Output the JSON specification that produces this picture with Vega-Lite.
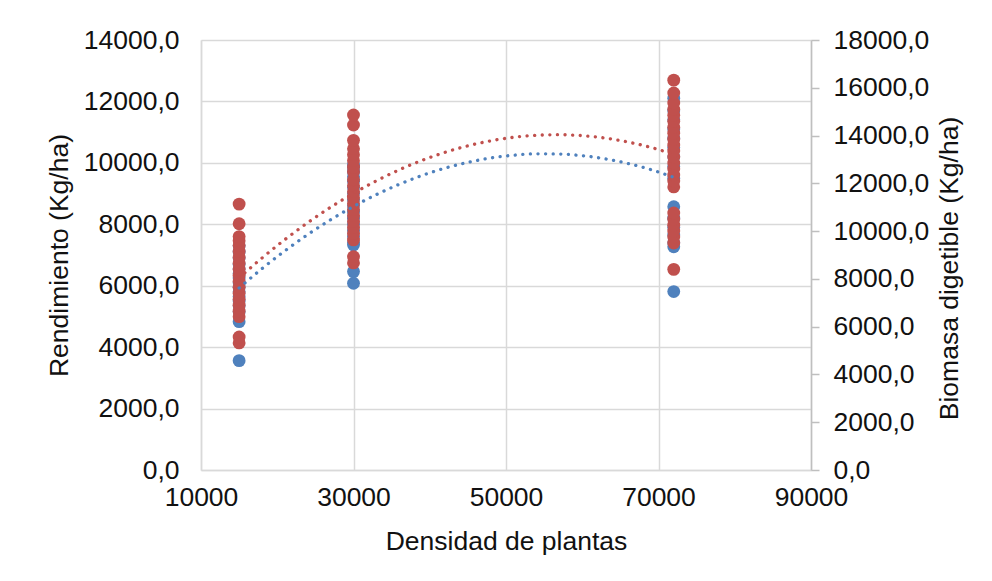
{
  "$schema": "https://vega.github.io/schema/vega-lite/v6.json",
  "width": 610,
  "height": 430,
  "autosize": "none",
  "padding": {"left": 201, "top": 40, "right": 181, "bottom": 111},
  "background": "white",
  "config": {
    "view": {"stroke": null},
    "font": "Liberation Sans",
    "axis": {
      "labelFont": "Liberation Sans",
      "titleFont": "Liberation Sans",
      "labelFontSize": 26.5,
      "titleFontSize": 26.5,
      "titleFontWeight": "normal",
      "labelColor": "#111111",
      "titleColor": "#111111",
      "gridColor": "#D9D9D9",
      "gridWidth": 1.5,
      "domainColor": "#D9D9D9",
      "domainWidth": 1.5,
      "tickColor": "#BFBFBF",
      "tickWidth": 1.5
    }
  },
  "datasets": {
    "rendimiento": [
      {"densidad": 15000, "rendimiento": 3560},
      {"densidad": 15000, "rendimiento": 4830},
      {"densidad": 15000, "rendimiento": 5150},
      {"densidad": 15000, "rendimiento": 5350},
      {"densidad": 15000, "rendimiento": 5500},
      {"densidad": 15000, "rendimiento": 5650},
      {"densidad": 15000, "rendimiento": 5800},
      {"densidad": 15000, "rendimiento": 5950},
      {"densidad": 15000, "rendimiento": 6100},
      {"densidad": 15000, "rendimiento": 6250},
      {"densidad": 15000, "rendimiento": 6400},
      {"densidad": 15000, "rendimiento": 6550},
      {"densidad": 15000, "rendimiento": 6700},
      {"densidad": 15000, "rendimiento": 6900},
      {"densidad": 15000, "rendimiento": 7100},
      {"densidad": 15000, "rendimiento": 7300},
      {"densidad": 30000, "rendimiento": 6080},
      {"densidad": 30000, "rendimiento": 6460},
      {"densidad": 30000, "rendimiento": 7330},
      {"densidad": 30000, "rendimiento": 7400},
      {"densidad": 30000, "rendimiento": 7600},
      {"densidad": 30000, "rendimiento": 7800},
      {"densidad": 30000, "rendimiento": 8000},
      {"densidad": 30000, "rendimiento": 8200},
      {"densidad": 30000, "rendimiento": 8400},
      {"densidad": 30000, "rendimiento": 8600},
      {"densidad": 30000, "rendimiento": 8800},
      {"densidad": 30000, "rendimiento": 9000},
      {"densidad": 30000, "rendimiento": 9200},
      {"densidad": 30000, "rendimiento": 9400},
      {"densidad": 30000, "rendimiento": 9550},
      {"densidad": 30000, "rendimiento": 9700},
      {"densidad": 30000, "rendimiento": 9850},
      {"densidad": 30000, "rendimiento": 9930},
      {"densidad": 72000, "rendimiento": 5810},
      {"densidad": 72000, "rendimiento": 7270},
      {"densidad": 72000, "rendimiento": 7400},
      {"densidad": 72000, "rendimiento": 7650},
      {"densidad": 72000, "rendimiento": 7900},
      {"densidad": 72000, "rendimiento": 8200},
      {"densidad": 72000, "rendimiento": 8570},
      {"densidad": 72000, "rendimiento": 9500},
      {"densidad": 72000, "rendimiento": 9880},
      {"densidad": 72000, "rendimiento": 10200},
      {"densidad": 72000, "rendimiento": 10500},
      {"densidad": 72000, "rendimiento": 10800},
      {"densidad": 72000, "rendimiento": 11100},
      {"densidad": 72000, "rendimiento": 11400},
      {"densidad": 72000, "rendimiento": 11700},
      {"densidad": 72000, "rendimiento": 12100}
    ],
    "biomasa": [
      {"densidad": 15000, "biomasa": 5320},
      {"densidad": 15000, "biomasa": 5570},
      {"densidad": 15000, "biomasa": 6420},
      {"densidad": 15000, "biomasa": 6650},
      {"densidad": 15000, "biomasa": 6900},
      {"densidad": 15000, "biomasa": 7150},
      {"densidad": 15000, "biomasa": 7400},
      {"densidad": 15000, "biomasa": 7650},
      {"densidad": 15000, "biomasa": 7900},
      {"densidad": 15000, "biomasa": 8150},
      {"densidad": 15000, "biomasa": 8400},
      {"densidad": 15000, "biomasa": 8650},
      {"densidad": 15000, "biomasa": 8900},
      {"densidad": 15000, "biomasa": 9150},
      {"densidad": 15000, "biomasa": 9400},
      {"densidad": 15000, "biomasa": 9600},
      {"densidad": 15000, "biomasa": 9770},
      {"densidad": 15000, "biomasa": 10310},
      {"densidad": 15000, "biomasa": 11130},
      {"densidad": 30000, "biomasa": 8670},
      {"densidad": 30000, "biomasa": 8930},
      {"densidad": 30000, "biomasa": 9630},
      {"densidad": 30000, "biomasa": 9900},
      {"densidad": 30000, "biomasa": 10150},
      {"densidad": 30000, "biomasa": 10400},
      {"densidad": 30000, "biomasa": 10650},
      {"densidad": 30000, "biomasa": 10900},
      {"densidad": 30000, "biomasa": 11150},
      {"densidad": 30000, "biomasa": 11400},
      {"densidad": 30000, "biomasa": 11650},
      {"densidad": 30000, "biomasa": 11900},
      {"densidad": 30000, "biomasa": 12150},
      {"densidad": 30000, "biomasa": 12490},
      {"densidad": 30000, "biomasa": 12680},
      {"densidad": 30000, "biomasa": 12950},
      {"densidad": 30000, "biomasa": 13200},
      {"densidad": 30000, "biomasa": 13450},
      {"densidad": 30000, "biomasa": 13800},
      {"densidad": 30000, "biomasa": 14440},
      {"densidad": 30000, "biomasa": 14860},
      {"densidad": 72000, "biomasa": 8400},
      {"densidad": 72000, "biomasa": 9500},
      {"densidad": 72000, "biomasa": 9750},
      {"densidad": 72000, "biomasa": 10000},
      {"densidad": 72000, "biomasa": 10250},
      {"densidad": 72000, "biomasa": 10500},
      {"densidad": 72000, "biomasa": 10760},
      {"densidad": 72000, "biomasa": 11850},
      {"densidad": 72000, "biomasa": 12100},
      {"densidad": 72000, "biomasa": 12350},
      {"densidad": 72000, "biomasa": 12600},
      {"densidad": 72000, "biomasa": 12850},
      {"densidad": 72000, "biomasa": 13100},
      {"densidad": 72000, "biomasa": 13350},
      {"densidad": 72000, "biomasa": 13600},
      {"densidad": 72000, "biomasa": 13850},
      {"densidad": 72000, "biomasa": 14100},
      {"densidad": 72000, "biomasa": 14350},
      {"densidad": 72000, "biomasa": 14600},
      {"densidad": 72000, "biomasa": 14850},
      {"densidad": 72000, "biomasa": 15100},
      {"densidad": 72000, "biomasa": 15360},
      {"densidad": 72000, "biomasa": 15780},
      {"densidad": 72000, "biomasa": 16320}
    ],
    "tendencia_rendimiento": [
      {"densidad": 15000, "rendimiento": 5927},
      {"densidad": 18000, "rendimiento": 6555},
      {"densidad": 21000, "rendimiento": 7135},
      {"densidad": 24000, "rendimiento": 7666},
      {"densidad": 27000, "rendimiento": 8148},
      {"densidad": 30000, "rendimiento": 8581},
      {"densidad": 33000, "rendimiento": 8966},
      {"densidad": 36000, "rendimiento": 9302},
      {"densidad": 39000, "rendimiento": 9589},
      {"densidad": 42000, "rendimiento": 9828},
      {"densidad": 45000, "rendimiento": 10017},
      {"densidad": 48000, "rendimiento": 10158},
      {"densidad": 51000, "rendimiento": 10250},
      {"densidad": 54000, "rendimiento": 10294},
      {"densidad": 57000, "rendimiento": 10288},
      {"densidad": 60000, "rendimiento": 10234},
      {"densidad": 63000, "rendimiento": 10131},
      {"densidad": 66000, "rendimiento": 9979},
      {"densidad": 69000, "rendimiento": 9779},
      {"densidad": 72000, "rendimiento": 9530}
    ],
    "tendencia_biomasa": [
      {"densidad": 15000, "biomasa": 8040},
      {"densidad": 18000, "biomasa": 8874},
      {"densidad": 21000, "biomasa": 9645},
      {"densidad": 24000, "biomasa": 10354},
      {"densidad": 27000, "biomasa": 11000},
      {"densidad": 30000, "biomasa": 11584},
      {"densidad": 33000, "biomasa": 12106},
      {"densidad": 36000, "biomasa": 12566},
      {"densidad": 39000, "biomasa": 12963},
      {"densidad": 42000, "biomasa": 13297},
      {"densidad": 45000, "biomasa": 13570},
      {"densidad": 48000, "biomasa": 13780},
      {"densidad": 51000, "biomasa": 13927},
      {"densidad": 54000, "biomasa": 14013},
      {"densidad": 57000, "biomasa": 14036},
      {"densidad": 60000, "biomasa": 13996},
      {"densidad": 63000, "biomasa": 13895},
      {"densidad": 66000, "biomasa": 13730},
      {"densidad": 69000, "biomasa": 13504},
      {"densidad": 72000, "biomasa": 13215}
    ]
  },
  "layer": [
    {
      "data": {"name": "rendimiento"},
      "mark": {"type": "circle", "size": 165, "color": "#4F81BD", "opacity": 1},
      "encoding": {
        "x": {
          "field": "densidad",
          "type": "quantitative",
          "scale": {"domain": [10000, 90000], "nice": false, "zero": false},
          "axis": {
            "title": "Densidad de plantas",
            "values": [10000, 30000, 50000, 70000, 90000],
            "format": "d",
            "grid": true,
            "ticks": false,
            "labelFlush": false,
            "labelPadding": 14,
            "titlePadding": 18
          }
        },
        "y": {
          "field": "rendimiento",
          "type": "quantitative",
          "scale": {"domain": [0, 14000], "nice": false},
          "axis": {
            "orient": "left",
            "title": "Rendimiento (Kg/ha)",
            "values": [0, 2000, 4000, 6000, 8000, 10000, 12000, 14000],
            "labelExpr": "replace(format(datum.value, '.1f'), '.', ',')",
            "grid": true,
            "ticks": false,
            "labelPadding": 22,
            "titlePadding": 10
          }
        }
      }
    },
    {
      "data": {"name": "biomasa"},
      "mark": {"type": "circle", "size": 165, "color": "#C0504D", "opacity": 1},
      "encoding": {
        "x": {"field": "densidad", "type": "quantitative"},
        "y": {
          "field": "biomasa",
          "type": "quantitative",
          "scale": {"domain": [0, 18000], "nice": false},
          "axis": {
            "orient": "right",
            "title": "Biomasa digetible (Kg/ha)",
            "titleAngle": -90,
            "titleBaseline": "top",
            "titleY": 228,
            "values": [0, 2000, 4000, 6000, 8000, 10000, 12000, 14000, 16000, 18000],
            "labelExpr": "replace(format(datum.value, '.1f'), '.', ',')",
            "grid": false,
            "ticks": true,
            "tickSize": 8,
            "domainColor": "#BFBFBF",
            "labelPadding": 14,
            "titlePadding": 8
          }
        }
      }
    },
    {
      "data": {"name": "tendencia_rendimiento"},
      "mark": {"type": "line", "color": "#4F81BD", "strokeWidth": 3.3, "strokeDash": [0.1, 7.5], "strokeCap": "round", "interpolate": "monotone"},
      "encoding": {
        "x": {"field": "densidad", "type": "quantitative"},
        "y": {"field": "rendimiento", "type": "quantitative", "scale": {"domain": [0, 14000], "nice": false}, "axis": null}
      }
    },
    {
      "data": {"name": "tendencia_biomasa"},
      "mark": {"type": "line", "color": "#C0504D", "strokeWidth": 3.3, "strokeDash": [0.1, 7.5], "strokeCap": "round", "interpolate": "monotone"},
      "encoding": {
        "x": {"field": "densidad", "type": "quantitative"},
        "y": {"field": "biomasa", "type": "quantitative", "scale": {"domain": [0, 18000], "nice": false}, "axis": null}
      }
    }
  ],
  "resolve": {"scale": {"y": "independent"}}
}
